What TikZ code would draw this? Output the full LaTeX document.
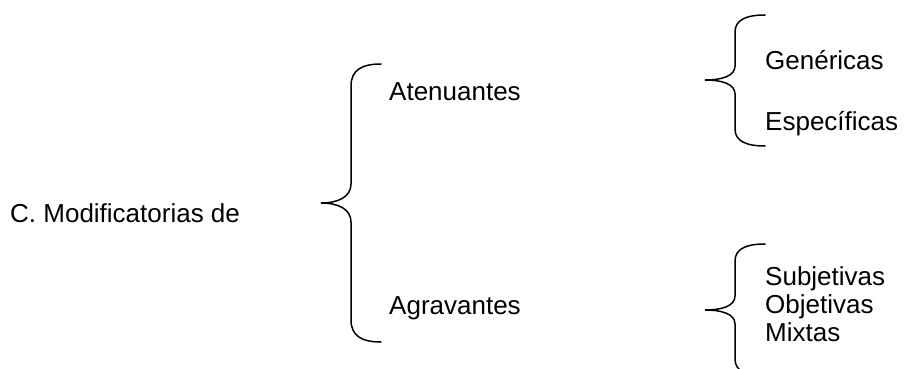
\documentclass[tikz,border=0pt]{standalone}
\usepackage{fontspec}
\setmainfont{Liberation Sans}
\tikzset{
  llave/.style={line width=1.5pt, line cap=round},
  rotulo/.style={anchor=base west, inner sep=0pt, font=\fontsize{26}{30}\selectfont},
}
\begin{document}
\begin{tikzpicture}[x=1pt, y=-1pt]
\useasboundingbox (0,0) rectangle (904,369);
\clip (0,0) rectangle (904,369);
% brace principal
\draw[llave] (381,64) .. controls (362,64) and (351,70) .. (351,86) -- (351,184)
  .. controls (351,197) and (338,203) .. (321,203)
  .. controls (338,203) and (351,209) .. (351,222) -- (351,320)
  .. controls (351,336) and (362,342) .. (381,342);
% brace atenuantes
\draw[llave] (765,15) .. controls (746,15) and (735,20) .. (735,32) -- (735,66)
  .. controls (735,76) and (722,80) .. (705,80)
  .. controls (722,80) and (735,84) .. (735,94) -- (735,129)
  .. controls (735,141) and (746,146) .. (765,146);
% brace agravantes
\draw[llave] (765,244) .. controls (746,244) and (735,249) .. (735,261) -- (735,296)
  .. controls (735,306) and (722,310) .. (705,310)
  .. controls (722,310) and (735,314) .. (735,324) -- (735,359)
  .. controls (735,371) and (746,376) .. (765,376);
% textos
\node[rotulo] (cmod) at (10,222) {C. Modificatorias de};
\node[rotulo] (aten) at (389,100) {Atenuantes};
\node[rotulo] (agra) at (389,314) {Agravantes};
\node[rotulo] (gene) at (765,70) {Genéricas};
\node[rotulo] (espe) at (765,130) {Específicas};
\node[rotulo] (subj) at (765,285) {Subjetivas};
\node[rotulo] (obje) at (765,313) {Objetivas};
\node[rotulo] (mixt) at (765,341) {Mixtas};
\end{tikzpicture}
\end{document}
